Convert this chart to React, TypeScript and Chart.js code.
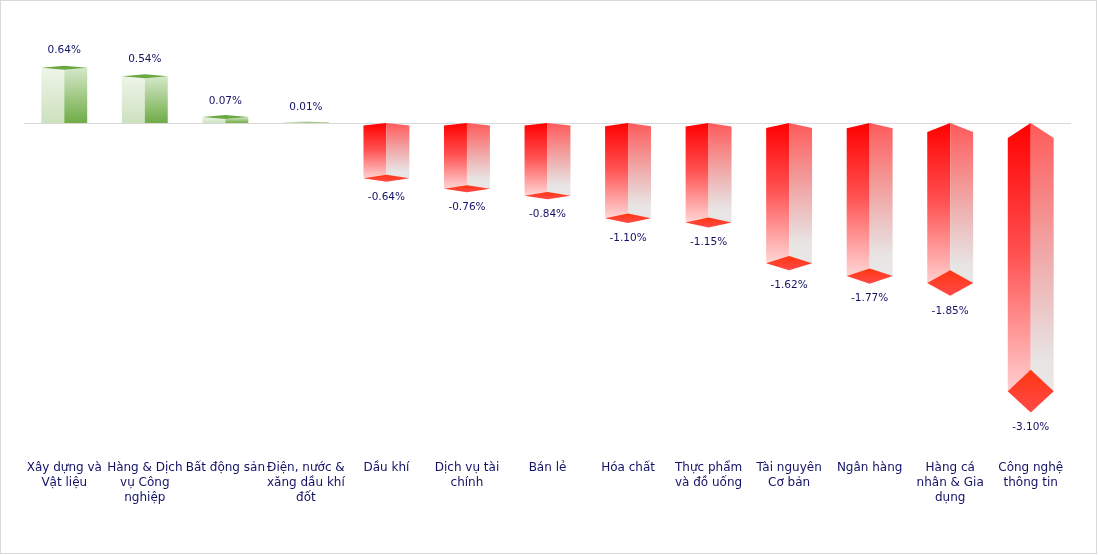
import React, { useEffect, useRef } from "react";
import { Chart, registerables } from "chart.js";

Chart.register(...registerables);

const categories: string[][] = [
  ["Xây dựng và", "Vật liệu"],
  ["Hàng & Dịch", "vụ Công", "nghiệp"],
  ["Bất động sản"],
  ["Điện, nước &", "xăng dầu khí", "đốt"],
  ["Dầu khí"],
  ["Dịch vụ tài", "chính"],
  ["Bán lẻ"],
  ["Hóa chất"],
  ["Thực phẩm", "và đồ uống"],
  ["Tài nguyên", "Cơ bản"],
  ["Ngân hàng"],
  ["Hàng cá", "nhân & Gia", "dụng"],
  ["Công nghệ", "thông tin"],
];

const changes: number[] = [0.64, 0.54, 0.07, 0.01, -0.64, -0.76, -0.84, -1.1, -1.15, -1.62, -1.77, -1.85, -3.1];

const Y_MIN = -3.8;
const Y_MAX = 1.0;

const LABEL_COLOR = "#121266";
const FONT = '"DejaVu Sans", sans-serif';

function fmt(v: number): string {
  return v.toFixed(2) + "%";
}

const bar3d = {
  id: "bar3d",
  beforeDatasetsDraw(chart: any) {
    const { ctx, chartArea, scales } = chart;
    const y0 = Math.round(scales.y.getPixelForValue(0)) + 0.5;
    ctx.save();
    ctx.strokeStyle = "#d9d9d9";
    ctx.lineWidth = 1;
    ctx.beginPath();
    ctx.moveTo(chartArea.left, y0);
    ctx.lineTo(chartArea.right, y0);
    ctx.stroke();
    ctx.restore();
  },
  afterDatasetsDraw(chart: any) {
    const { ctx } = chart;
    const meta = chart.getDatasetMeta(0);
    const data = chart.data.datasets[0].data as number[];
    ctx.save();
    meta.data.forEach((el: any, i: number) => {
      const { x, y, base, width } = el.getProps(["x", "y", "base", "width"], true);
      const v = data[i];
      const hw = width / 2;
      const L = x - hw;
      const R = x + hw;
      const poly = (pts: number[][], fill: any) => {
        ctx.beginPath();
        ctx.moveTo(pts[0][0], pts[0][1]);
        for (let k = 1; k < pts.length; k++) ctx.lineTo(pts[k][0], pts[k][1]);
        ctx.closePath();
        ctx.fillStyle = fill;
        ctx.fill();
      };
      let labelY: number;
      if (v >= 0) {
        const len = base - y;
        const dh = Math.min(2, len * 0.4);
        const gl = ctx.createLinearGradient(0, y, 0, base);
        gl.addColorStop(0, "#eef5e9");
        gl.addColorStop(1, "#cde1be");
        poly([[L, y], [x, y + dh], [x, base], [L, base]], gl);
        const gr = ctx.createLinearGradient(0, y, 0, base);
        gr.addColorStop(0, "#d6e8ca");
        gr.addColorStop(1, "#6fac46");
        poly([[x, y + dh], [R, y], [R, base], [x, base]], gr);
        poly([[L, y], [x, y - dh], [R, y], [x, y + dh]], "#6aa842");
        labelY = y - 15 - 0.04 * len;
      } else {
        const len = y - base;
        const dh = Math.max(3.5, 0.05 * len * (i >= 11 ? 1.6 : 1));
        const p = 0.7 * dh;
        const gl = ctx.createLinearGradient(0, base, 0, y + dh);
        gl.addColorStop(0, "#ff0000");
        gl.addColorStop(0.45, "#ff5050");
        gl.addColorStop(1, "#ffe2e2");
        poly([[L, base + p], [x, base], [x, y + dh], [L, y]], gl);
        const gr = ctx.createLinearGradient(0, base, 0, y + dh);
        gr.addColorStop(0, "#ff5a5a");
        gr.addColorStop(0.5, "#efb0b0");
        gr.addColorStop(0.82, "#e8e4e4");
        gr.addColorStop(1, "#e8e8e8");
        poly([[x, base], [R, base + p], [R, y], [x, y + dh]], gr);
        const gd = ctx.createLinearGradient(0, y - dh, 0, y + dh);
        gd.addColorStop(0, "#ff3610");
        gd.addColorStop(1, "#ff4a4a");
        poly([[x, y - dh], [R, y], [x, y + dh], [L, y]], gd);
        labelY = y + dh + 15;
      }
      ctx.fillStyle = LABEL_COLOR;
      ctx.font = "10.5px " + FONT;
      ctx.textAlign = "center";
      ctx.textBaseline = "middle";
      ctx.fillText(fmt(v), x, labelY);
    });
    ctx.restore();
  },
};

export default function App() {
  const ref = useRef<HTMLCanvasElement | null>(null);
  useEffect(() => {
    if (!ref.current) return;
    const chart = new Chart(ref.current, {
      type: "bar",
      data: {
        labels: categories,
        datasets: [
          {
            data: changes,
            backgroundColor: "rgba(0,0,0,0)",
            borderWidth: 0,
            categoryPercentage: 1,
            barPercentage: 0.57,
          },
        ],
      },
      options: {
        responsive: false,
        animation: false,
        devicePixelRatio: 1,
        layout: { padding: { left: 24, right: 27, top: 36.5, bottom: 0 } },
        plugins: { legend: { display: false }, tooltip: { enabled: false } },
        scales: {
          x: {
            grid: { display: false },
            border: { display: false },
            ticks: {
              color: LABEL_COLOR,
              font: { family: FONT, size: 12, lineHeight: 1.25 },
              padding: 1,
              autoSkip: false,
              maxRotation: 0,
              minRotation: 0,
            },
            afterFit: (scale: any) => {
              scale.height = 103.3;
            },
          },
          y: {
            display: false,
            min: Y_MIN,
            max: Y_MAX,
          },
        },
      },
      plugins: [bar3d],
    });
    return () => chart.destroy();
  }, []);
  return (
    <div style={{ position: "fixed", left: 0, top: 0, width: 1098, height: 555, background: "#fff" }}>
      <canvas ref={ref} width={1098} height={555} style={{ position: "absolute", left: 0, top: 0, width: 1098, height: 555 }} />
      <div
        style={{
          position: "absolute",
          left: 0,
          top: 0,
          width: 1097,
          height: 554,
          boxSizing: "border-box",
          border: "1px solid #d9d9d9",
          pointerEvents: "none",
        }}
      />
    </div>
  );
}
